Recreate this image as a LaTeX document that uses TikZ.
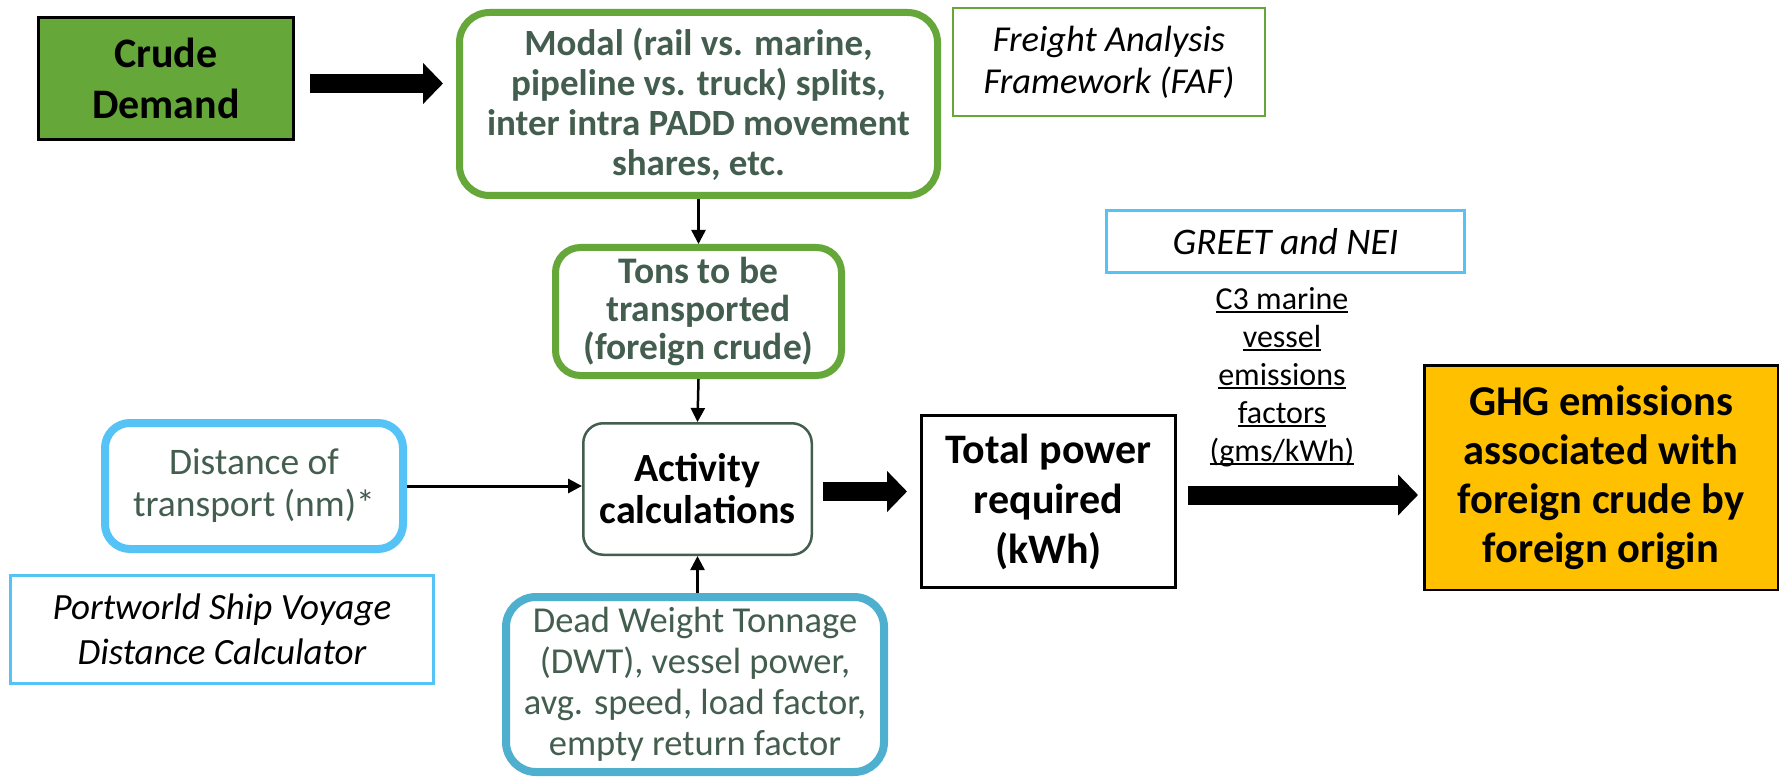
\documentclass[tikz,border=0pt]{standalone}
\usepackage{fontspec}
\setmainfont{Carlito}
\usetikzlibrary{arrows.meta}
\newcommand\myul[1]{\setbox0\hbox{#1}\rlap{\rule[-4pt]{\wd0}{2pt}}\box0}
\definecolor{cgreen}{RGB}{101,167,57}
\definecolor{ctext}{RGB}{67,94,79}
\definecolor{cblue}{RGB}{86,195,247}
\definecolor{cteal}{RGB}{78,176,206}
\definecolor{corange}{RGB}{255,192,0}
\begin{document}
\begin{tikzpicture}[x=1pt,y=-1pt,
  box/.style={inner sep=0pt,align=center},
  thinarrow/.style={line width=2.5pt,-{Triangle[length=14pt,width=14pt]}},
  bigarrow/.style={line width=19pt,-{Triangle[length=20pt,width=40pt]}}]
\fill[white] (0,0) rectangle (1781,778);
\useasboundingbox (0,0) rectangle (1781,778);

\node[box,draw=black,line width=3pt,fill=cgreen,minimum width=255pt,minimum height=122pt,
  font=\fontsize{42}{51}\selectfont\bfseries] (crude) at (166,78.5) {Crude\\Demand};

\node[box,draw=cgreen,line width=7pt,rounded corners=30pt,minimum width=478pt,minimum height=183pt,
  text=ctext,font=\fontsize{37}{40}\selectfont\bfseries] (modal) at (698.5,104)
  {Modal (rail vs. marine,\\pipeline vs. truck) splits,\\inter intra PADD movement\\shares, etc.};

\node[box,draw=cgreen,line width=2pt,minimum width=312pt,minimum height=108pt,
  font=\fontsize{36.5}{42}\selectfont\itshape] (faf) at (1109,62) {Freight Analysis\\Framework (FAF)};

\node[box,draw=cgreen,line width=7pt,rounded corners=25pt,minimum width=286pt,minimum height=128pt,
  text=ctext,font=\fontsize{37.5}{38}\selectfont\bfseries] (tons) at (698.5,311.5)
  {Tons to be\\transported\\(foreign crude)};

\node[box,draw=ctext,line width=2.5pt,rounded corners=20pt,minimum width=228.5pt,minimum height=131.5pt,
  font=\fontsize{40}{42}\selectfont\bfseries] (act) at (697.5,489) {Activity\\calculations};

\node[box,draw=cblue,line width=8pt,rounded corners=25pt,minimum width=298pt,minimum height=126pt,
  text=ctext,font=\fontsize{37.5}{42}\selectfont] (dist) at (254,486) {Distance of\\transport (nm)*};

\node[box,draw=cblue,line width=3pt,minimum width=423pt,minimum height=108pt,
  font=\fontsize{37}{45}\selectfont\itshape] (port) at (222,629.5)
  {Portworld Ship Voyage\\Distance Calculator};

\node[box,draw=cteal,line width=8pt,rounded corners=30pt,minimum width=378pt,minimum height=175pt,
  text=ctext,font=\fontsize{36.5}{41}\selectfont] (dwt) at (695,684.5)
  {Dead Weight Tonnage\\(DWT), vessel power,\\avg. speed, load factor,\\empty return factor};

\node[box,draw=black,line width=3pt,minimum width=254pt,minimum height=172pt,
  font=\fontsize{42}{50}\selectfont\bfseries] (total) at (1048.5,501.5) {Total power\\required\\(kWh)};

\node[box,draw=cblue,line width=3pt,minimum width=358pt,minimum height=62pt,
  font=\fontsize{37.5}{42}\selectfont\itshape] (greet) at (1285.5,241.5) {GREET and NEI};

\node[box,font=\fontsize{32}{38}\selectfont] (ef) at (1282,377)
  {\myul{C3 marine}\\\myul{vessel}\\\myul{emissions}\\\myul{factors}\\\myul{(gms/kWh)}};

\node[box,draw=black,line width=2.5pt,fill=corange,minimum width=353.5pt,minimum height=224.5pt,
  font=\fontsize{42.5}{49}\selectfont\bfseries] (ghg) at (1601,477.5)
  {GHG emissions\\associated with\\foreign crude by\\foreign origin};

\draw[bigarrow] ([shift={(15,5)}]crude.east) -- ([shift={(-13,-20.5)}]modal.west);
\draw[bigarrow] ([shift={(10,2.5)}]act.east) -- ([shift={(-13,-10)}]total.west);
\draw[bigarrow] ([shift={(11,-6.5)}]total.east) -- ([shift={(-5,17.5)}]ghg.west);

\draw[thinarrow] (modal.south) -- (tons.north);
\draw[thinarrow] (tons.south) -- (act.north);
\draw[thinarrow] (dwt.north -| act.south) -- (act.south);
\draw[thinarrow,line width=3pt] (dist.east) -- (dist.east -| act.west);
\end{tikzpicture}
\end{document}
